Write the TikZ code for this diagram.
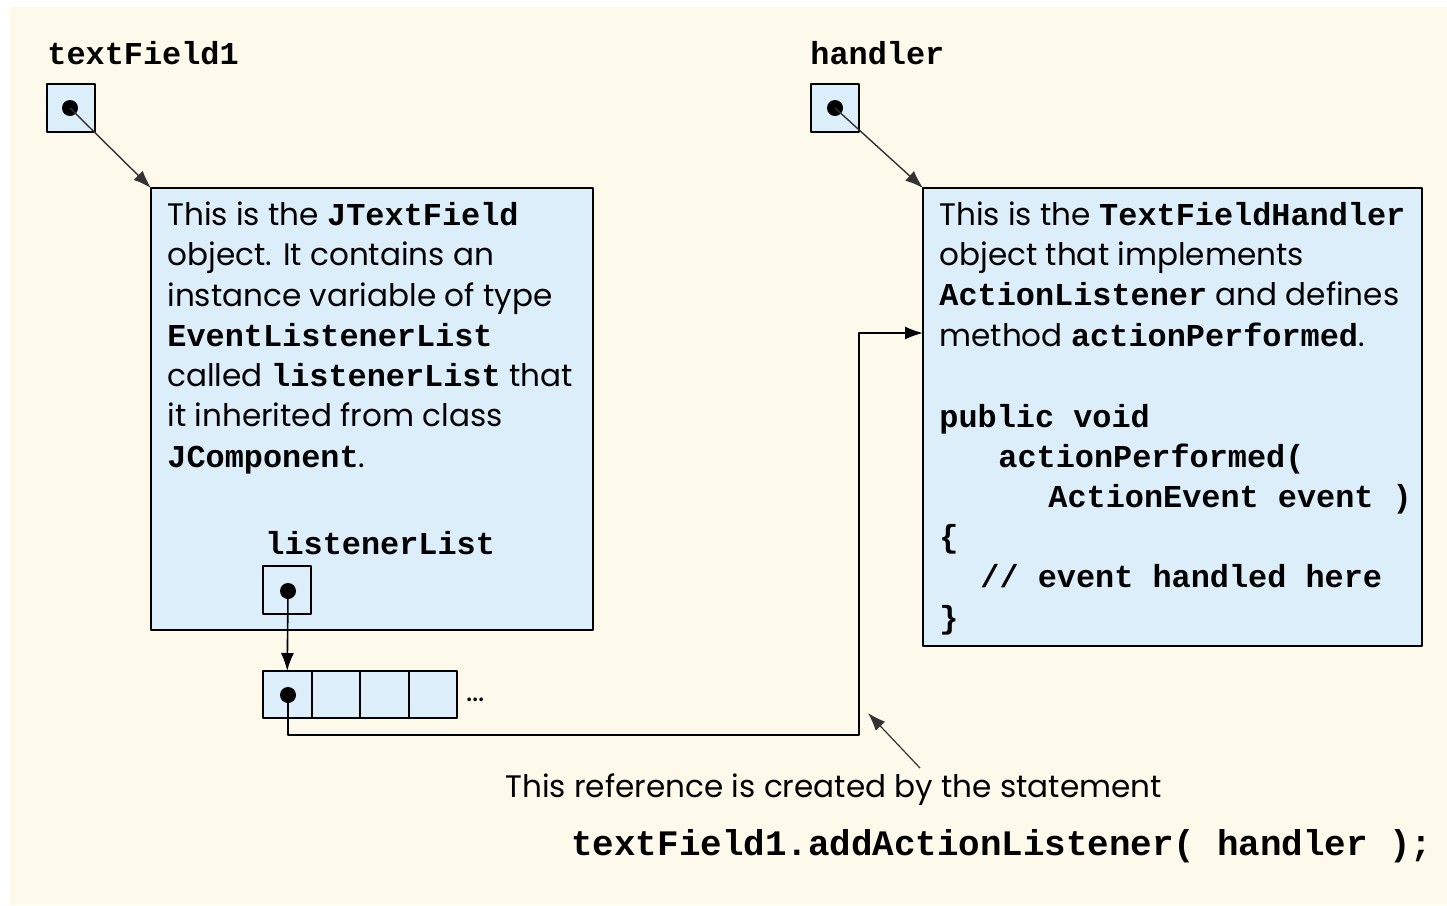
\documentclass[tikz,border=0pt]{standalone}
\usepackage{fontspec}
\setmainfont{Poppins}
\newfontfamily\codefont{Liberation Mono}
\usetikzlibrary{arrows.meta}
\definecolor{paper}{RGB}{253,249,235}
\definecolor{cellfill}{RGB}{220,238,250}
\newcommand{\cw}[1]{{\fontsize{16}{20.2}\codefont\bfseries #1}}
\tikzset{
  refbox/.style={draw, fill=cellfill, line width=1bp, minimum size=24bp, inner sep=0pt, outer sep=0pt},
  cell/.style={draw, fill=cellfill, line width=1bp, minimum width=24.25bp, minimum height=23.5bp, inner sep=0pt, outer sep=0pt},
  objbox/.style={draw, fill=cellfill, line width=1bp, inner sep=0pt, outer sep=0pt, anchor=north west},
  refdot/.style={circle, fill=black, inner sep=0pt, minimum size=8bp},
  body/.style={anchor=base west, align=left, inner sep=0pt, font=\fontsize{15.6}{20.2}\selectfont},
  varname/.style={anchor=base west, inner sep=0pt, font=\fontsize{16}{20.2}\codefont\bfseries},
}
\begin{document}
\begin{tikzpicture}[x=0.5bp,y=-0.5bp,>={Latex[length=9bp,width=6.5bp]},line join=bevel]
  \useasboundingbox (0,0) rectangle (1447,905);
  \fill[paper] (10,7) rectangle (1447,905);
%%
  % Node: textField1
  \node[varname] (tflabel) at (47,64) {textField1};
  \node[refbox] (tfref) at (71,108) {};
  \node[refdot] (tfdot) at (70,108) {};
  % Node: JTextField object (base = last line)
  \node[objbox, minimum width=221bp, minimum height=221bp] (tfobj) at (151,188) {};
  \node[body] (tftext) at (167,467) {This is the \cw{JTextField}\\
    object. It contains an\\
    instance variable of type\\
    \cw{EventListenerList}\\
    called \cw{listenerList} that\\
    it inherited from class\\
    \cw{JComponent}.};
  % Node: listenerList
  \node[varname] (lllabel) at (265,554) {listenerList};
  \node[refbox] (llref) at (287,590) {};
  \node[refdot] (lldot) at (288,591) {};
  % Node: listener array
  \foreach \i/\x in {1/287.25,2/335.75,3/384.25,4/432.75}
    \node[cell] (cell\i) at (\x,694.5) {};
  \node[refdot] (celldot) at (288,695) {};
  \node[anchor=base west, inner sep=0pt, font=\fontsize{15}{18}\selectfont] (more) at (466,701) {...};
  % Node: handler
  \node[varname] (hlabel) at (810,64) {handler};
  \node[refbox] (href) at (835,108) {};
  \node[refdot] (hdot) at (835,108) {};
  % Node: TextFieldHandler object
  \node[objbox, minimum width=249.5bp, minimum height=229bp] (hobj) at (923,188) {};
  \node[body] (htext) at (939,346) {This is the \cw{TextFieldHandler}\\
    object that implements\\
    \cw{ActionListener} and defines\\
    method \cw{actionPerformed}.};
  \node[body, font=\fontsize{16}{20.1}\codefont\bfseries] (hcode) at (939,628) {public void\\
    \hspace*{29.5bp}actionPerformed(\\
    \hspace*{54.5bp}ActionEvent event )\\
    \{\\
    \hspace*{20.5bp}// event handled here\\
    \}};
  % Node: note
  \node[body] (note) at (505,797) {This reference is created by the statement};
  \node[varname, font=\fontsize{18}{20}\codefont\bfseries] (stmt) at (571,855) {textField1.addActionListener( handler );};
  \coordinate (bend) at (859,735);
  \coordinate (hin) at (923,333);
  \coordinate (notetail) at (920,768);
  \coordinate (notetip) at (868,713);
%%
  % Edge: tfref -> tfobj
  \draw [->, line width=0.7bp, black!80] (tfdot.center) -- (tfobj.north west);
  % Edge: href -> hobj
  \draw [->, line width=0.7bp, black!80] (hdot.center) -- (hobj.north west);
  % Edge: llref -> cell1
  \draw [->, line width=0.8bp] (lldot.center) -- (cell1.north);
  % Edge: cell1 -> hobj
  \draw [->, line width=0.8bp] (celldot.center) |- (bend) |- (hin);
  % Edge: note -> reference
  \draw [->, line width=0.6bp, black!80] (notetail) -- (notetip);
%
\end{tikzpicture}
\end{document}
